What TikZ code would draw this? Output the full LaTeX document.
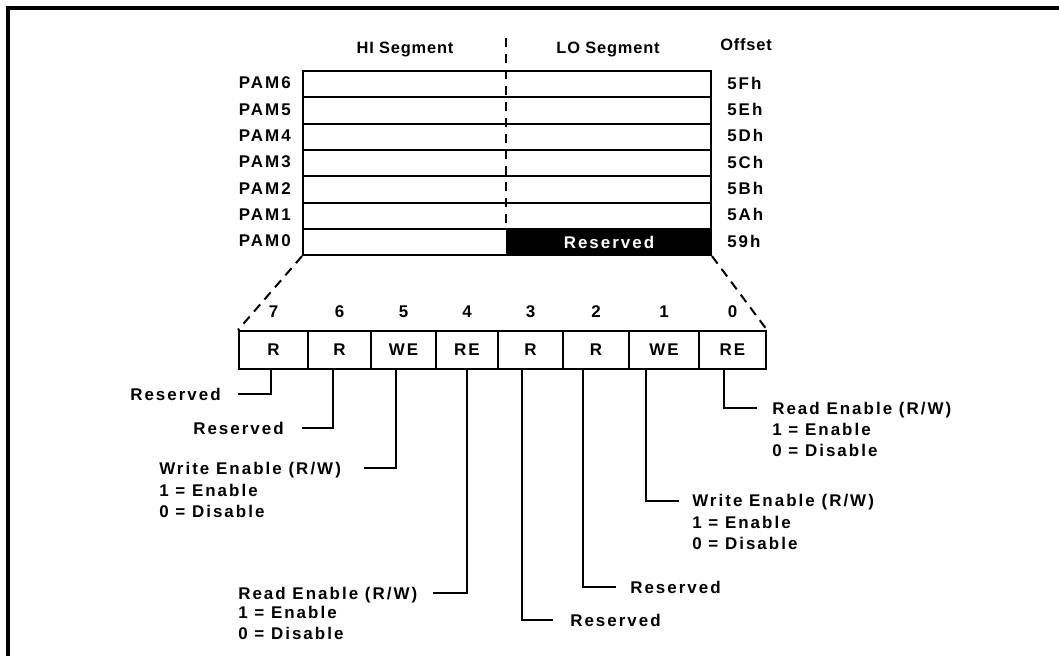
\documentclass[tikz,border=0pt]{standalone}
\usepackage{fontspec}
\setmainfont{Liberation Sans}[LetterSpace=12]
\newfontfamily\hdrfont{Liberation Sans}[LetterSpace=5]
\begin{document}
\begin{tikzpicture}[x=0.75pt,y=-0.75pt,
  txt/.style={font=\bfseries\fontsize{12.7}{14}\selectfont, inner sep=0pt},
  hdr/.style={font=\hdrfont\bfseries\fontsize{12.3}{14}\selectfont, inner sep=0pt},
  rowbox/.style={draw, line width=1.5pt, minimum width=306pt, minimum height=19.725pt, anchor=north west, inner sep=0pt},
  cellbox/.style={draw, line width=1.5pt, minimum height=28.5pt, anchor=north west, inner sep=0pt, font=\bfseries\fontsize{12.7}{14}\selectfont},
  conn/.style={line width=1.5pt},
  dsh/.style={line width=1.5pt, dash pattern=on 7pt off 5pt}]
\useasboundingbox (0,0) rectangle (1059,656);
\draw[line width=2.4pt] (8,656) -- (8,8) -- (1059,8);

% headers
\node[hdr] (hi) at (405,50) {HI Segment};
\node[hdr] (lo) at (608,50) {LO Segment};
\node[hdr] (off) at (746,45) {Offset};

% rows
\foreach \k/\n/\o in {0/6/5Fh,1/5/5Eh,2/4/5Dh,3/3/5Ch,4/2/5Bh,5/1/5Ah,6/0/59h}{
  \node[rowbox] (pam\n) at (302,{70+26.3*\k}) {};
  \node[txt, anchor=east] (pl\n) at (291,{70+26.3*\k+13.15}) {PAM\n};
  \node[txt, anchor=west] (ol\n) at (727,{70+26.3*\k+13.15}) {\o};
}
\node[draw, line width=1.5pt, fill=black, minimum width=153pt, minimum height=19.725pt, anchor=north west, inner sep=0pt, text=white, font=\bfseries\fontsize{12.7}{14}\selectfont] (res) at (506,227.8) {Reserved};
\draw[dsh] (506,38) -- (506,228);

% register cells
\foreach \b/\xa/\xb/\t in {7/238/307/R,6/307/370/R,5/370/435/WE,4/435/497/RE,3/497/562/R,2/562/628/R,1/628/698/WE,0/698/765/RE}{
  \node[cellbox, minimum width={(\xb-\xa)*0.75pt}] (c\b) at (\xa,330) {\t};
  \node[txt] (n\b) at ({(\xa+\xb)/2+1},312) {\b};
}
\draw[dsh] (pam0.south west) -- (c7.north west);
\draw[dsh] (pam0.south east) -- (c0.north east);

% field labels left
\node[txt, anchor=base east] (l7) at (221,400) {Reserved};
\node[txt, anchor=base east] (l6) at (284,434) {Reserved};
\node[txt, anchor=base west] (l5) at (159,474) {Write Enable (R/W)};
\node[txt, anchor=base west] (l5a) at (159,496) {1 = Enable};
\node[txt, anchor=base west] (l5b) at (159,517.5) {0 = Disable};
\node[txt, anchor=base west] (l4) at (238,599) {Read Enable (R/W)};
\node[txt, anchor=base west] (l4a) at (238,618.5) {1 = Enable};
\node[txt, anchor=base west] (l4b) at (238,639.5) {0 = Disable};
% field labels right
\node[txt, anchor=base west] (l3) at (570,626) {Reserved};
\node[txt, anchor=base west] (l2) at (630,593) {Reserved};
\node[txt, anchor=base west] (l1) at (692,506.5) {Write Enable (R/W)};
\node[txt, anchor=base west] (l1a) at (692,528) {1 = Enable};
\node[txt, anchor=base west] (l1b) at (692,549) {0 = Disable};
\node[txt, anchor=base west] (l0) at (772,414) {Read Enable (R/W)};
\node[txt, anchor=base west] (l0a) at (772,435) {1 = Enable};
\node[txt, anchor=base west] (l0b) at (772,456) {0 = Disable};

% connectors
\draw[conn] (c7.south -| 271,0) -- (271,394) -- (238,394);
\draw[conn] (c6.south -| 333,0) -- (333,428) -- (302,428);
\draw[conn] (c5.south -| 396,0) -- (396,468) -- (364,468);
\draw[conn] (c4.south -| 467,0) -- (467,593) -- (433,593);
\draw[conn] (c3.south -| 522,0) -- (522,620) -- (553,620);
\draw[conn] (c2.south -| 583,0) -- (583,587) -- (616,587);
\draw[conn] (c1.south -| 646,0) -- (646,501) -- (679,501);
\draw[conn] (c0.south -| 724,0) -- (724,408) -- (757,408);
\end{tikzpicture}
\end{document}
